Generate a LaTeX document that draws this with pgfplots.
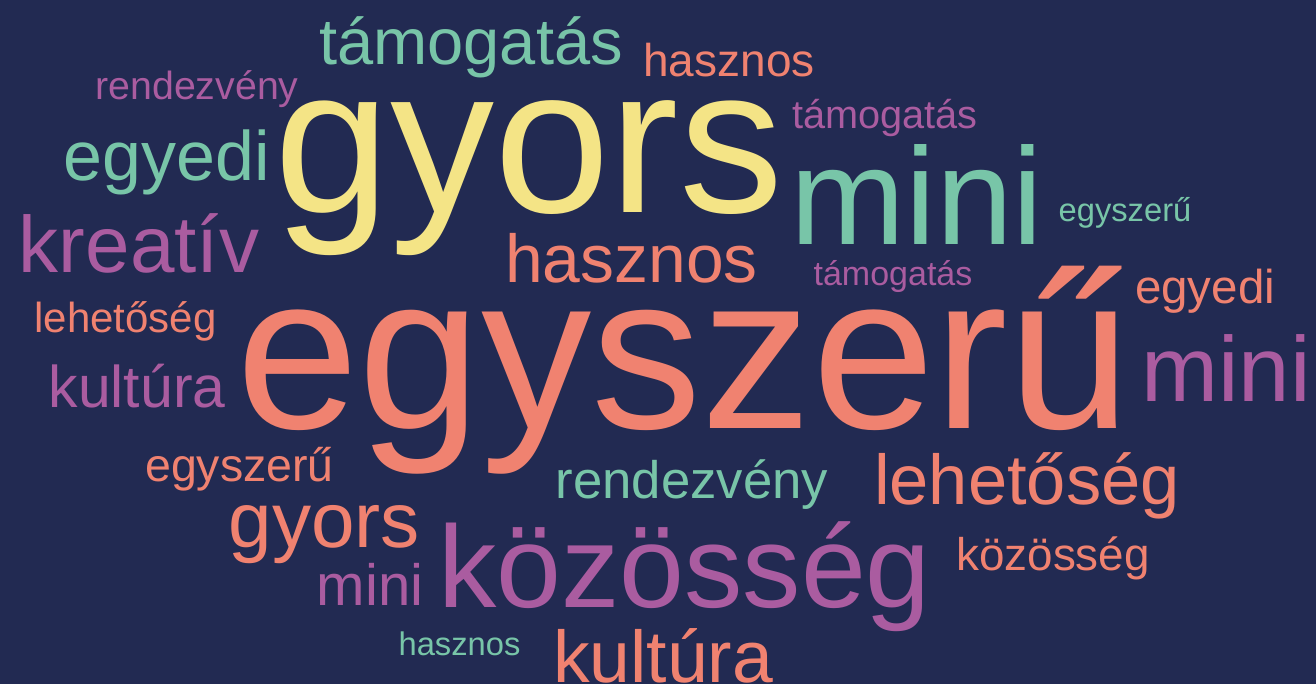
\documentclass[border=0pt]{standalone}
\usepackage{pgfplots}
\pgfplotsset{compat=1.18}
\usepackage{fontspec}
\setmainfont{Liberation Sans}
\definecolor{bg}{HTML}{222A52}
\definecolor{cyellow}{HTML}{F4E486}
\definecolor{cmint}{HTML}{78C5A8}
\definecolor{csalmon}{HTML}{F08270}
\definecolor{cpurple}{HTML}{AA5CA0}
\pgfplotsset{
  wordstyle/.style={
    draw=none, mark=none,
    nodes near coords,
    point meta=explicit symbolic,
    visualization depends on={\thisrow{s} \as \fs},
    nodes near coords style={anchor=base, inner sep=0pt, outer sep=0pt,
      text=#1, font=\fontsize{\fs bp}{\fs bp}\selectfont},
  }
}
\begin{document}
\begin{tikzpicture}
\begin{axis}[
  scale only axis,
  width=1316bp, height=684bp,
  xmin=0, xmax=1316, ymin=0, ymax=684,
  y dir=reverse,
  axis line style={draw=none},
  xtick=\empty, ytick=\empty,
  axis background/.style={fill=bg},
  clip=false,
]
% yellow
\addplot[wordstyle=cyellow] table[x=x,y=y,meta=w] {
x y s w
529 212 208 gyors
};
% mint
\addplot[wordstyle=cmint] table[x=x,y=y,meta=w] {
x y s w
471 65 65 támogatás
166.5 180 70 egyedi
917 244 138 mini
1125 221 32.7 egyszerű
692 498 52.7 rendezvény
459.5 655 32.7 hasznos
};
% salmon
\addplot[wordstyle=csalmon] table[x=x,y=y,meta=w] {
x y s w
729 77 46 hasznos
631.5 282 67.8 hasznos
1205 303 47.5 egyedi
125.5 332 42 lehetőség
683.5 428 220.5 egyszerű
239.5 481 46.5 egyszerű
1027 504 70.5 lehetőség
324.5 547 78.2 gyors
1053 570 45.8 közösség
663 682 73.3 kultúra
};
% purple
\addplot[wordstyle=cpurple] table[x=x,y=y,meta=w] {
x y s w
197 99 39.3 rendezvény
885 128 39.7 támogatás
139 272 80 kreatív
893 285 34 támogatás
1226 401 92.4 mini
137 407 58.9 kultúra
684.5 607 116.6 közösség
370 605 58.2 mini
};
\end{axis}
\pgfresetboundingbox
\path[use as bounding box] (current axis.south west) rectangle (current axis.north east);
\end{tikzpicture}
\end{document}
